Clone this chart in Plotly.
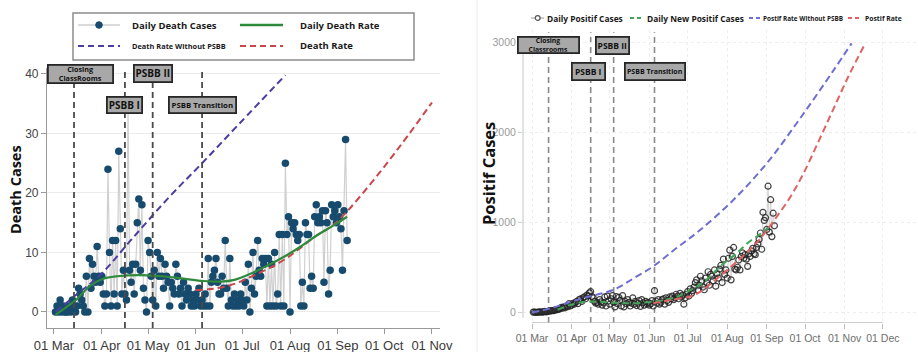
import pandas as pd
import plotly.graph_objects as go

# ---------------- data ----------------
BASE = pd.Timestamp("2020-03-01")

# Left panel: daily death cases, one value per day from 02 Mar
death_start = "2020-03-02"
daily_deaths = [
    0, 1, 0, 2, 0, 1, 0, 0, 0, 1,
    0, 2, 1, 0, 1, 4, 3, 2, 1, 0,
    6, 0, 9, 4, 8, 6, 5, 11, 6, 5,
    6, 3, 1, 3, 24, 10, 1, 12, 3, 12,
    1, 27, 14, 3, 7, 3, 2, 35, 7, 5,
    8, 3, 8, 15, 19, 7, 18, 4, 2, 0,
    12, 10, 6, 2, 7, 1, 10, 6, 9, 6,
    4, 8, 6, 5, 1, 5, 4, 3, 8, 6,
    3, 4, 1, 5, 3, 2, 4, 3, 1, 2,
    1, 3, 2, 4, 1, 2, 1, 3, 1, 9,
    1, 5, 6, 7, 9, 5, 3, 3, 6, 4,
    12, 4, 1, 9, 2, 1, 3, 1, 2, 1,
    3, 2, 1, 5, 2, 8, 0, 4, 10, 3,
    6, 12, 7, 6, 9, 8, 9, 1, 9, 1,
    8, 1, 10, 1, 3, 13, 1, 13, 1, 25,
    13, 16, 0, 15, 14, 15, 13, 12, 13, 1,
    5, 1, 15, 13, 13, 4, 6, 4, 16, 18,
    15, 16, 15, 17, 5, 17, 15, 3, 7, 18,
    16, 17, 15, 18, 16, 14, 7, 17, 29, 12,
]

# fitted curves (day offsets from 01 Mar)
death_rate_days = [1, 8, 15, 23, 31, 41, 55, 70, 84, 97, 108, 117, 129, 140, 150, 160, 170, 181, 190]
death_rate_vals = [-0.5, 0.8, 2.2, 4.3, 5.5, 6.0, 6.2, 6.0, 5.6, 5.2, 5.1, 5.4, 6.6, 8.0, 9.4, 11.0, 12.8, 14.5, 16.0]

nopsbb_death_days = [1, 15, 30, 50, 75, 96, 120, 150]
nopsbb_death_vals = [0, 3.0, 6.2, 12.1, 19.4, 25.0, 31.6, 39.8]

model_death_days = [92, 100, 110, 120, 130, 140, 150, 160, 170, 181, 190, 200, 211, 220, 229, 245]
model_death_vals = [3.7, 3.8, 4.2, 5.0, 6.2, 7.4, 8.9, 10.8, 12.8, 14.6, 16.9, 19.9, 23.4, 26.4, 29.5, 35.2]

# Right panel: daily positive cases from 02 Mar
positif_start = "2020-03-02"
daily_positif = [
    2, 2, 0, 0, 1, 5, 3, 2, 5, 10,
    5, 8, 12, 15, 15, 20, 18, 25, 30, 28,
    35, 40, 55, 45, 60, 50, 70, 62, 95, 70,
    80, 100, 90, 110, 120, 95, 140, 150, 120, 160,
    170, 150, 190, 180, 215, 230, 175, 160, 120, 100,
    110, 90, 140, 115, 80, 105, 170, 70, 180, 125,
    90, 150, 185, 110, 60, 175, 95, 165, 130, 70,
    185, 60, 120, 95, 140, 110, 70, 100, 160, 90,
    120, 75, 100, 130, 65, 140, 105, 80, 120, 95,
    110, 80, 95, 130, 70, 240, 125, 100, 140, 90,
    110, 140, 150, 90, 160, 130, 110, 170, 150, 180,
    140, 160, 200, 180, 150, 210, 170, 190, 90, 160,
    200, 230, 180, 260, 210, 240, 280, 330, 360, 250,
    300, 400, 350, 280, 250, 380, 330, 450, 300, 420,
    400, 350, 470, 290, 430, 380, 480, 520, 330, 590,
    420, 470, 380, 600, 690, 360, 620, 720, 480, 470,
    500, 580, 470, 620, 660, 600, 640, 590, 510, 650,
    620, 680, 710, 650, 640, 720, 760, 810, 880, 700,
    1110, 1020, 1050, 920, 1400, 890, 1250, 840, 1100, 960,
]

new_pos_days = [20, 30, 40, 50, 60, 75, 90, 105, 115, 124, 135, 150, 160, 170, 180, 189]
new_pos_vals = [30, 80, 115, 120, 110, 100, 110, 140, 180, 245, 340, 540, 650, 780, 880, 990]

nopsbb_pos_days = [0, 15, 30, 45, 64, 80, 95, 113, 131.7, 157.8, 184, 210, 236, 250.5]
nopsbb_pos_vals = [0, 45, 115, 175, 250, 380, 510, 710, 913, 1247, 1654, 2150, 2680, 2986]

model_pos_days = [95, 110, 124, 132, 150, 165, 176, 184, 192, 202, 212, 224, 236, 248, 260.5]
model_pos_vals = [100, 140, 175, 230, 433, 620, 770, 910, 1065, 1270, 1520, 1880, 2250, 2620, 2968]

event_dates = ["2020-03-14", "2020-04-16", "2020-05-04", "2020-06-05"]
left_event_labels = ["Closing<br>ClassRooms", "PSBB I", "PSBB II", "PSBB Transition"]
right_event_labels = ["Closing<br>Classrooms", "PSBB I", "PSBB II", "PSBB Transition"]

left_month_ticks = pd.date_range("2020-03-01", "2020-11-01", freq="MS")
right_month_ticks = pd.date_range("2020-03-01", "2020-12-01", freq="MS")
left_y_ticks = [0, 10, 20, 30, 40]
right_y_ticks = [0, 1000, 2000, 3000]


def days_to_dates(days):
    return [BASE + pd.Timedelta(days=d) for d in days]


death_dates = pd.date_range(death_start, periods=len(daily_deaths), freq="D")
positif_dates = pd.date_range(positif_start, periods=len(daily_positif), freq="D")

W, H = 918, 352


def X(px):
    return px / W


def Y(py):
    return 1 - py / H


BOLD = "Open Sans"
TICKF = "Liberation Sans Narrow, Arial Narrow, Liberation Sans, Arial"

C_DOT = "#174b6e"
C_GREEN = "#2f8a3c"
C_BLUE_L = "#4b3ea0"
C_RED_L = "#c9474b"
C_BLUE_R = "#6f6fd2"
C_RED_R = "#e06262"
C_GREEN_R = "#43a457"

fig = go.Figure()

# ---------------- left panel ----------------
fig.add_trace(go.Scatter(
    x=death_dates, y=daily_deaths, mode="lines+markers",
    line=dict(color="#d0d0d0", width=1.2),
    marker=dict(color=C_DOT, size=7.5),
    xaxis="x", yaxis="y", name="Daily Death Cases"))
fig.add_trace(go.Scatter(
    x=days_to_dates(nopsbb_death_days), y=nopsbb_death_vals, mode="lines",
    line=dict(color=C_BLUE_L, width=2, dash="7px,4px", shape="spline"),
    xaxis="x", yaxis="y", name="Death Rate Without PSBB"))
fig.add_trace(go.Scatter(
    x=days_to_dates(model_death_days), y=model_death_vals, mode="lines",
    line=dict(color=C_RED_L, width=2, dash="7px,4px", shape="spline"),
    xaxis="x", yaxis="y", name="Death Rate"))
fig.add_trace(go.Scatter(
    x=days_to_dates(death_rate_days), y=death_rate_vals, mode="lines",
    line=dict(color=C_GREEN, width=2.2, shape="spline"),
    xaxis="x", yaxis="y", name="Daily Death Rate"))

# ---------------- right panel ----------------
fig.add_trace(go.Scatter(
    x=positif_dates, y=daily_positif, mode="lines+markers",
    line=dict(color="#d4d4d4", width=1),
    marker=dict(symbol="circle-open", color="rgba(35,35,35,0.85)", size=6, line=dict(width=1.2)),
    xaxis="x2", yaxis="y2", name="Daily Positif Cases"))
fig.add_trace(go.Scatter(
    x=days_to_dates(new_pos_days), y=new_pos_vals, mode="lines",
    line=dict(color=C_GREEN_R, width=2, dash="7px,4px", shape="spline"),
    xaxis="x2", yaxis="y2", name="Daily New Positif Cases"))
fig.add_trace(go.Scatter(
    x=days_to_dates(nopsbb_pos_days), y=nopsbb_pos_vals, mode="lines",
    line=dict(color=C_BLUE_R, width=2, dash="7px,4px", shape="spline"),
    xaxis="x2", yaxis="y2", name="Postif Rate Without PSBB"))
fig.add_trace(go.Scatter(
    x=days_to_dates(model_pos_days), y=model_pos_vals, mode="lines",
    line=dict(color=C_RED_R, width=2, dash="7px,4px", shape="spline"),
    xaxis="x2", yaxis="y2", name="Postif Rate"))

shapes = []
annotations = []

# event lines
for d in event_dates:
    shapes.append(dict(type="line", xref="x", yref="y domain", x0=d, x1=d, y0=0, y1=1,
                       line=dict(color="#4a4a4a", width=1.8, dash="6px,4px"), layer="above"))
    shapes.append(dict(type="line", xref="x2", yref="y2", x0=d, x1=d, y0=-119, y1=3110,
                       line=dict(color="#8a8a8a", width=1.6, dash="6px,4px"), layer="below"))

# right capped axis lines
shapes.append(dict(type="line", xref="x2", yref="y2", x0=right_month_ticks[0], x1=right_month_ticks[-1],
                   y0=-119, y1=-119, line=dict(color="#bdbdbd", width=1.5)))
shapes.append(dict(type="line", xref="x2 domain", yref="y2", x0=0, x1=0, y0=-60, y1=3000,
                   line=dict(color="#cfcfcf", width=1.2)))
# right panel image border
shapes.append(dict(type="line", xref="paper", yref="paper", x0=X(477), x1=X(477), y0=0, y1=1,
                   line=dict(color="#ececec", width=1)))


# event boxes
def box(cx, cy, w, h, text, size):
    annotations.append(dict(
        xref="paper", yref="paper", x=X(cx), y=Y(cy), xanchor="center", yanchor="middle",
        text=text, showarrow=False, width=w - 3, height=h - 3, borderpad=0,
        bgcolor="#a8a8a8", bordercolor="#262626", borderwidth=1.8,
        font=dict(family=BOLD, size=size, color="#111", weight="bold")))


lbox = [(80, 74, 66, 19, 7.2), (124.5, 105, 36, 17, 10), (153, 73.5, 39, 18, 10), (202.5, 105, 68, 17, 7.8)]
for (cx, cy, w, h, s), t in zip(lbox, left_event_labels):
    box(cx, cy, w, h, t, s)
rbox = [(548.5, 44.5, 62, 17, 6.8), (588.5, 71.5, 34, 18, 8.5), (612.5, 45.5, 34, 18, 8.5), (655, 71.5, 61, 18, 7)]
for (cx, cy, w, h, s), t in zip(rbox, right_event_labels):
    box(cx, cy, w, h, t, s)

# ---------------- legends (drawn) ----------------
shapes.append(dict(type="rect", xref="paper", yref="paper", x0=X(73), x1=X(414), y0=Y(60), y1=Y(13),
                   line=dict(color="#8c8c8c", width=1.5), fillcolor="white", layer="below"))


def seg(x0, x1, y, color, width, dash=None):
    shapes.append(dict(type="line", xref="paper", yref="paper", x0=X(x0), x1=X(x1), y0=Y(y), y1=Y(y),
                       line=dict(color=color, width=width, dash=dash)))


def dot(cx, cy, r, fill, line_color, lw=1):
    shapes.append(dict(type="circle", xref="paper", yref="paper", x0=X(cx - r), x1=X(cx + r),
                       y0=Y(cy + r), y1=Y(cy - r), fillcolor=fill, line=dict(color=line_color, width=lw)))


def label(x, y, text, size, family=BOLD, color="#1a1a1a"):
    annotations.append(dict(xref="paper", yref="paper", x=X(x), y=Y(y), xanchor="left", yanchor="middle",
                            text=text, showarrow=False,
                            font=dict(family=family, size=size, color=color, weight="bold")))


# left legend
seg(78, 120, 25, "#cfcfcf", 1.5)
dot(99, 25, 3.3, C_DOT, C_DOT)
label(130, 25, "Daily Death Cases", 9.5)
seg(240, 283, 25, C_GREEN, 2.5)
label(298, 25, "Daily Death Rate", 9.5)
seg(78, 120, 46, C_BLUE_L, 2, "6px,4px")
label(130, 46, "Death Rate Without PSBB", 7.4)
seg(240, 283, 46, C_RED_L, 2, "6px,4px")
label(298, 46, "Death Rate", 9.5)

# right legend
seg(531, 544, 18, "#bdbdbd", 1.5)
dot(537.7, 18, 2.4, "white", "#555", 1.2)
label(545, 18, "Daily Positif Cases", 8.4)
seg(630, 643, 18, C_GREEN_R, 2, "4px,3px")
label(645, 18, "Daily New Positif Cases", 8.4)
seg(749, 761, 18, C_BLUE_R, 2, "4px,3px")
label(761, 18, "Postif Rate Without PSBB", 6.4)
seg(848, 861, 18, C_RED_R, 2, "4px,3px")
label(863, 18, "Postif Rate", 6.8)

# axis titles
annotations.append(dict(xref="paper", yref="paper", x=X(15), y=Y(190), text="Death Cases", textangle=-90,
                        showarrow=False, xanchor="center", yanchor="middle",
                        font=dict(family=BOLD, size=14.5, color="#111", weight="bold")))
annotations.append(dict(xref="paper", yref="paper", x=X(488), y=Y(174), text="Positif Cases", textangle=-90,
                        showarrow=False, xanchor="center", yanchor="middle",
                        font=dict(family=BOLD, size=16.5, color="#111", weight="bold")))

fig.update_layout(
    template="none",
    width=W, height=H, margin=dict(l=0, r=0, t=0, b=0, autoexpand=False),
    paper_bgcolor="white", plot_bgcolor="white", showlegend=False,
    shapes=shapes, annotations=annotations,
    xaxis=dict(
        domain=[X(47), X(440)], type="date", automargin=False,
        range=[BASE - pd.Timedelta(days=4.5), BASE + pd.Timedelta(days=250.2)],
        tickvals=left_month_ticks, tickformat="%d %b",
        showgrid=False, zeroline=False, showline=True, linecolor="#9a9a9a", linewidth=1.2,
        ticks="outside", ticklen=5, tickcolor="#9a9a9a",
        tickfont=dict(family=TICKF, size=13, color="#3a3a3a")),
    yaxis=dict(
        domain=[Y(328), Y(68)], anchor="x", automargin=False,
        range=[-2.7, 41.0], tickvals=left_y_ticks,
        showgrid=True, gridcolor="#ececec", gridwidth=1, zeroline=False,
        showline=True, linecolor="#9a9a9a", linewidth=1.2,
        ticks="outside", ticklen=5, tickcolor="#9a9a9a",
        tickfont=dict(family=TICKF, size=12, color="#444")),
    xaxis2=dict(
        domain=[X(523), 1.0], type="date", anchor="y2", automargin=False,
        range=[BASE - pd.Timedelta(days=7.05), BASE + pd.Timedelta(days=302.5)],
        tickvals=right_month_ticks, tickformat="%d %b",
        showgrid=True, gridcolor="#eeeeee", griddash="dot", zeroline=False, showline=False,
        ticks="outside", ticklen=5, tickcolor="#bdbdbd",
        tickfont=dict(family=TICKF, size=10.5, color="#6e6e6e")),
    yaxis2=dict(
        domain=[Y(323), Y(30)], anchor="x2", automargin=False,
        range=[-119, 3134], tickvals=right_y_ticks,
        showgrid=True, gridcolor="#eeeeee", griddash="dot", zeroline=False, showline=False,
        ticks="outside", ticklen=4, tickcolor="#cfcfcf",
        tickfont=dict(family=TICKF, size=10.5, color="#9a9a9a")),
)

fig.write_html("out.html")
